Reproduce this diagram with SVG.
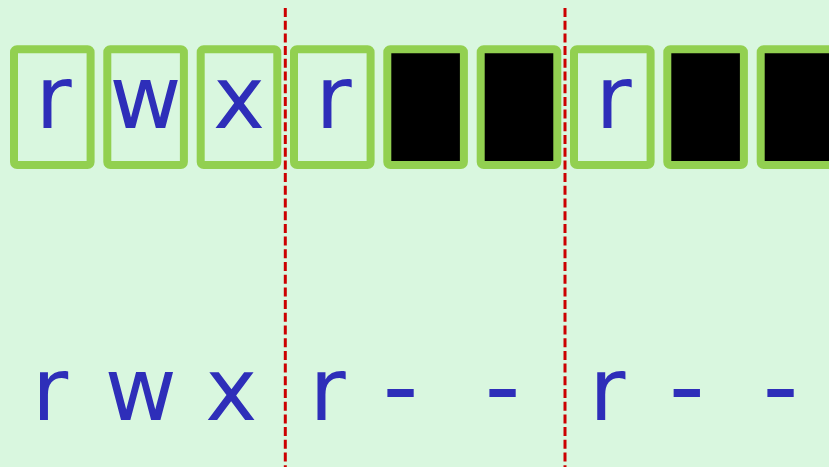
<svg xmlns="http://www.w3.org/2000/svg" width="829" height="467" viewBox="0 0 829 467">
<style>
.box{fill:none;stroke:#92d050;stroke-width:8}
.blk{fill:#000;stroke:#92d050;stroke-width:8}
.t{font-family:"DejaVu Sans",sans-serif;font-size:88px;fill:#2e2eb9;text-anchor:middle}
.d{font-family:"DejaVu Sans",sans-serif;font-size:100px;fill:#2e2eb9;text-anchor:middle}
.sep{stroke:#cc0000;stroke-width:3;stroke-dasharray:9 3.7}
</style>
<rect width="829" height="467" fill="#d9f7df"/>
<g id="connectors">
<line class="sep" x1="285.3" y1="8" x2="285.3" y2="467"/>
<line class="sep" x1="565" y1="8" x2="565" y2="467"/>
</g>
<g id="cell1"><rect class="box" x="14" y="49.2" width="76.6" height="115.8" rx="3"/><text class="t" x="53.7" y="128">r</text></g>
<g id="cell2"><rect class="box" x="107.3" y="49.2" width="76.6" height="115.8" rx="3"/><text class="t" x="145.6" y="128">w</text></g>
<g id="cell3"><rect class="box" x="200.7" y="49.2" width="76.6" height="115.8" rx="3"/><text class="t" x="239" y="128">x</text></g>
<g id="cell4"><rect class="box" x="294" y="49.2" width="76.6" height="115.8" rx="3"/><text class="t" x="333.7" y="128">r</text></g>
<g id="cell5"><rect class="blk" x="387.3" y="49.2" width="76.6" height="115.8" rx="3"/></g>
<g id="cell6"><rect class="blk" x="480.7" y="49.2" width="76.6" height="115.8" rx="3"/></g>
<g id="cell7"><rect class="box" x="574" y="49.2" width="76.6" height="115.8" rx="3"/><text class="t" x="613.7" y="128">r</text></g>
<g id="cell8"><rect class="blk" x="667.3" y="49.2" width="76.6" height="115.8" rx="3"/></g>
<g id="cell9"><rect class="blk" x="760.7" y="49.2" width="76.6" height="115.8" rx="3"/></g>
<g id="labels">
<text class="t" x="50.2" y="419.5">r</text>
<text class="t" x="140.8" y="419.5">w</text>
<text class="t" x="231.2" y="419.5">x</text>
<text class="t" x="327.7" y="420">r</text>
<text class="d" x="400.5" y="419.5">-</text>
<text class="d" x="502.5" y="419.5">-</text>
<text class="t" x="607.3" y="419.5">r</text>
<text class="d" x="686.7" y="419.5">-</text>
<text class="d" x="780.5" y="419.5">-</text>
</g>
</svg>
